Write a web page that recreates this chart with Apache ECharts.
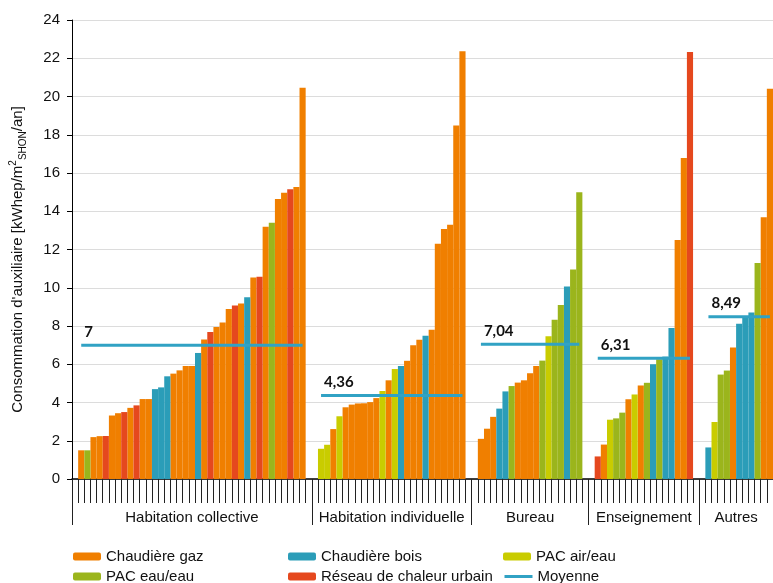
<!DOCTYPE html>
<html><head><meta charset="utf-8">
<script src="https://cdn.jsdelivr.net/npm/echarts/dist/echarts.min.js"></script>
<style>html,body{margin:0;padding:0;background:#fff}#c{width:773px;height:583px}</style>
</head><body><div id="c"></div>
<script>
// ---- data ----
const groupNames = ['Habitation collective', 'Habitation individuelle', 'Bureau', 'Enseignement', 'Autres'];
// G = Chaudière gaz, B = Chaudière bois, A = PAC air/eau, E = PAC eau/eau, R = Réseau de chaleur urbain
const typeKeys = ['G', 'B', 'A', 'E', 'R'];
const typeNames = ['Chaudière gaz', 'Chaudière bois', 'PAC air/eau', 'PAC eau/eau', 'Réseau de chaleur urbain'];
const averageName = 'Moyenne';

const hcTypes  = ['G','E','G','G','R','G','G','R','G','R','G','G','B','B','B','G','G','G','G','B','G','R','G','G','G','R','G','B','G','R','G','E','G','G','R','G','G'];
const hcValues = [1.5,1.5,2.19,2.24,2.25,3.32,3.44,3.5,3.72,3.85,4.18,4.18,4.7,4.79,5.37,5.51,5.68,5.91,5.91,6.59,7.29,7.69,7.95,8.18,8.89,9.07,9.17,9.5,10.53,10.57,13.19,13.4,14.64,14.97,15.15,15.27,20.46];

const hiTypes  = ['A','A','G','A','G','G','G','G','G','G','A','G','A','B','G','G','G','B','G','G','G','G','G','G'];
const hiValues = [1.58,1.79,2.61,3.28,3.75,3.89,3.95,3.96,4.02,4.23,4.6,5.16,5.75,5.91,6.18,7.0,7.28,7.49,7.8,12.3,13.07,13.3,18.49,22.36];

const buTypes  = ['G','G','G','B','B','E','G','G','G','G','E','A','E','E','B','E','E'];
const buValues = [2.1,2.63,3.25,3.68,4.58,4.86,5.04,5.16,5.53,5.91,6.19,7.46,8.33,9.1,10.07,10.96,15.0];

const enTypes  = ['R','G','A','E','E','G','A','G','E','B','E','B','B','G','G','R'];
const enValues = [1.18,1.8,3.1,3.17,3.47,4.17,4.42,4.89,5.03,6.0,6.26,6.4,7.89,12.5,16.78,22.33];

const auTypes  = ['B','A','E','E','G','B','B','B','E','G','G'];
const auValues = [1.65,2.98,5.46,5.67,6.88,8.12,8.47,8.7,11.3,13.68,20.4];

const averages = [7, 4.36, 7.04, 6.31, 8.49];
const averageLabels = ['7', '4,36', '7,04', '6,31', '8,49'];
const trailingEmpty = [1, 1, 1, 1, 0];

const yTicks = {min: 0, max: 24, interval: 2};

// ---- build ----
const colors = {G:'#F07F00', B:'#2B9DB8', A:'#C9CC00', E:'#9BB51C', R:'#E5481E'};
const avgColor = '#31A2C4';
const groupTypes = [hcTypes, hiTypes, buTypes, enTypes, auTypes];
const groupValues = [hcValues, hiValues, buValues, enValues, auValues];

const cats = [], groupAxis = [], boundaries = [], evenCenter = {};
const seriesData = {}; typeKeys.forEach(k => seriesData[k] = []);
const avgData = [];
groupNames.forEach((name, gi) => {
  const vals = groupValues[gi], types = groupTypes[gi];
  const start = cats.length; boundaries.push(start);
  const total = 1 + vals.length + trailingEmpty[gi];
  for (let k = 0; k < total; k++) {
    const idx = cats.length;
    cats.push(String(idx));
    groupAxis.push('');
    const bi = k - 1;
    const isBar = bi >= 0 && bi < vals.length;
    typeKeys.forEach(t => seriesData[t].push(isBar && types[bi] === t ? vals[bi] : '-'));
    if (isBar) {
      const item = {value: averages[gi]};
      if (bi === 0) item.label = {show: true, formatter: averageLabels[gi]};
      avgData.push(item);
    } else avgData.push('-');
  }
  const c = start + Math.floor(total / 2);
  groupAxis[c] = name;
  if (total % 2 === 0) evenCenter[c] = true;
});

const gridLeft = 69.8, gridRight = -5.4;
const catW = (773 - gridLeft - gridRight) / cats.length;
const font = 'Liberation Sans, Arial, sans-serif';

const chart = echarts.init(document.getElementById('c'), null, {renderer: 'canvas'});
const series = typeKeys.map((k, i) => ({
  name: typeNames[i], type: 'bar', stack: 'all', data: seriesData[k],
  barCategoryGap: '0%',
  itemStyle: {color: colors[k], borderWidth: 0},
  emphasis: {disabled: true}
}));
series.push({
  name: averageName, type: 'line', data: avgData,
  showSymbol: true, showAllSymbol: true, symbol: 'circle', symbolSize: 1,
  itemStyle: {color: avgColor, opacity: 0},
  lineStyle: {color: avgColor, width: 3},
  label: {show: false, position: 'top', align: 'left', distance: 5, offset: [3, 0],
          fontFamily: 'Lato', fontWeight: 'bold', fontSize: 15, color: '#111', opacity: 1},
  z: 5, emphasis: {disabled: true}
});

const legendPos = [[73,549],[288,549],[503,549],[73,569],[288,569],[503,569]];
const legendNames = [typeNames[0], typeNames[1], typeNames[2], typeNames[3], typeNames[4], averageName];
const legends = legendNames.map((n, i) => ({
  data: [n], left: legendPos[i][0], top: legendPos[i][1], padding: 0,
  itemWidth: 28, itemHeight: 8, selectedMode: false,
  lineStyle: {width: 3},
  textStyle: {fontSize: 15, color: '#111', fontFamily: font}
}));

chart.setOption({
  animation: false,
  backgroundColor: '#fff',
  legend: legends,
  grid: {left: gridLeft, right: gridRight, top: 20, bottom: 104, containLabel: false},
  xAxis: [{
    type: 'category', data: cats,
    axisLine: {lineStyle: {color: '#000', width: 1.5}},
    axisTick: {show: true, interval: 0, length: 24, lineStyle: {color: '#222', width: 1}},
    axisLabel: {show: false}, splitLine: {show: false}
  }, {
    type: 'category', data: groupAxis, position: 'bottom', offset: 24,
    axisLine: {show: false},
    axisTick: {show: true, interval: (i) => boundaries.indexOf(i) >= 0, length: 22, lineStyle: {color: '#222', width: 1}},
    axisLabel: {interval: 0, margin: 7, fontSize: 15, color: '#111', fontFamily: font,
      formatter: (v, i) => v ? (evenCenter[i] ? '{s|' + v + '}' : v) : '',
      rich: {s: {fontSize: 15, color: '#111', fontFamily: font, padding: [0, catW, 0, 0]}}}
  }],
  yAxis: {
    type: 'value', min: yTicks.min, max: yTicks.max, interval: yTicks.interval,
    axisLine: {show: true, lineStyle: {color: '#000', width: 1}},
    axisTick: {show: true, length: 5, lineStyle: {color: '#000'}},
    axisLabel: {fontSize: 15, color: '#111', fontFamily: font, margin: 12},
    splitLine: {lineStyle: {color: '#dcdcdc', width: 1.2}},
    name: '{n|Consommation d\'auxiliaire [kWhep/m}{sup|2}{sub|SHON}{n|/an]}',
    nameLocation: 'middle', nameGap: 44,
    nameTextStyle: {fontFamily: font, color: '#111', fontSize: 15, padding: [0, 20, 0, 0],
      rich: {
        n: {fontSize: 15, fontFamily: font, color: '#111', lineHeight: 20},
        sup: {fontSize: 10, fontFamily: font, color: '#111', lineHeight: 10, verticalAlign: 'top'},
        sub: {fontSize: 10, fontFamily: font, color: '#111', lineHeight: 10, verticalAlign: 'bottom'}
      }}
  },
  series: series
});
</script></body></html>
